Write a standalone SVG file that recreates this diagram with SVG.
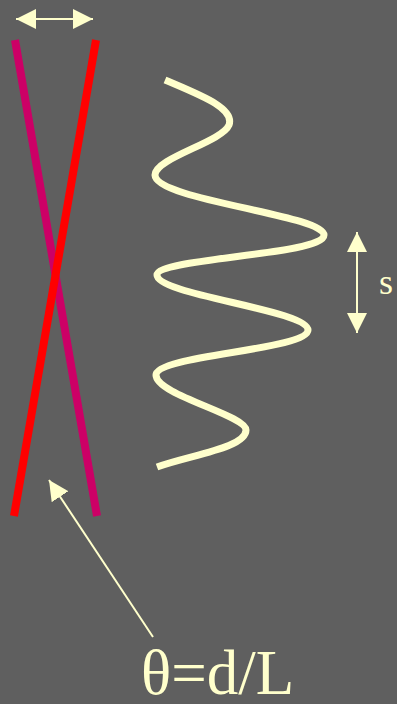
<svg xmlns="http://www.w3.org/2000/svg" width="397" height="704" viewBox="0 0 397 704">
<style>
.cream{stroke:#ffffcc;fill:none}
.txt{fill:#ffffcc;font-family:"Liberation Serif",serif}
</style>
<defs>
<marker id="ah" viewBox="0 0 20 20" refX="20" refY="10" markerWidth="20" markerHeight="20" markerUnits="userSpaceOnUse" orient="auto-start-reverse">
<path d="M0,0 L20,10 L0,20 Z" fill="#ffffcc"/>
</marker>
</defs>
<rect width="397" height="704" fill="#5f5f5f"/>
<g id="line-magenta"><line x1="15" y1="40" x2="97" y2="516" stroke="#cc0066" stroke-width="8"/></g>
<g id="line-red"><line x1="96" y1="40" x2="14" y2="516" stroke="#ff0000" stroke-width="8"/></g>
<g id="wave"><path class="cream" stroke-width="7" d="M165,80 C200,95 235,108 229,125 C222,142 155,158 155,175 C155,200 324,215 324,235 C324,255 157,258 157,275 C157,295 308,310 308,330 C308,350 156,355 156,375 C156,395 246,415 246,430 C246,448 190,455 157,467"/></g>
<g id="connectors">
<line class="cream" stroke-width="2" x1="16" y1="19" x2="93" y2="19" marker-start="url(#ah)" marker-end="url(#ah)"/>
<line class="cream" stroke-width="2" x1="357" y1="232" x2="357" y2="333" marker-start="url(#ah)" marker-end="url(#ah)"/>
<line class="cream" stroke-width="2" x1="153" y1="637" x2="49" y2="480" marker-end="url(#ah)"/>
</g>
<g id="label-s"><text class="txt" x="379" y="294" font-size="36">s</text></g>
<g id="label-theta"><text class="txt" x="141" y="694" font-size="63">θ=d/L</text></g>
</svg>
